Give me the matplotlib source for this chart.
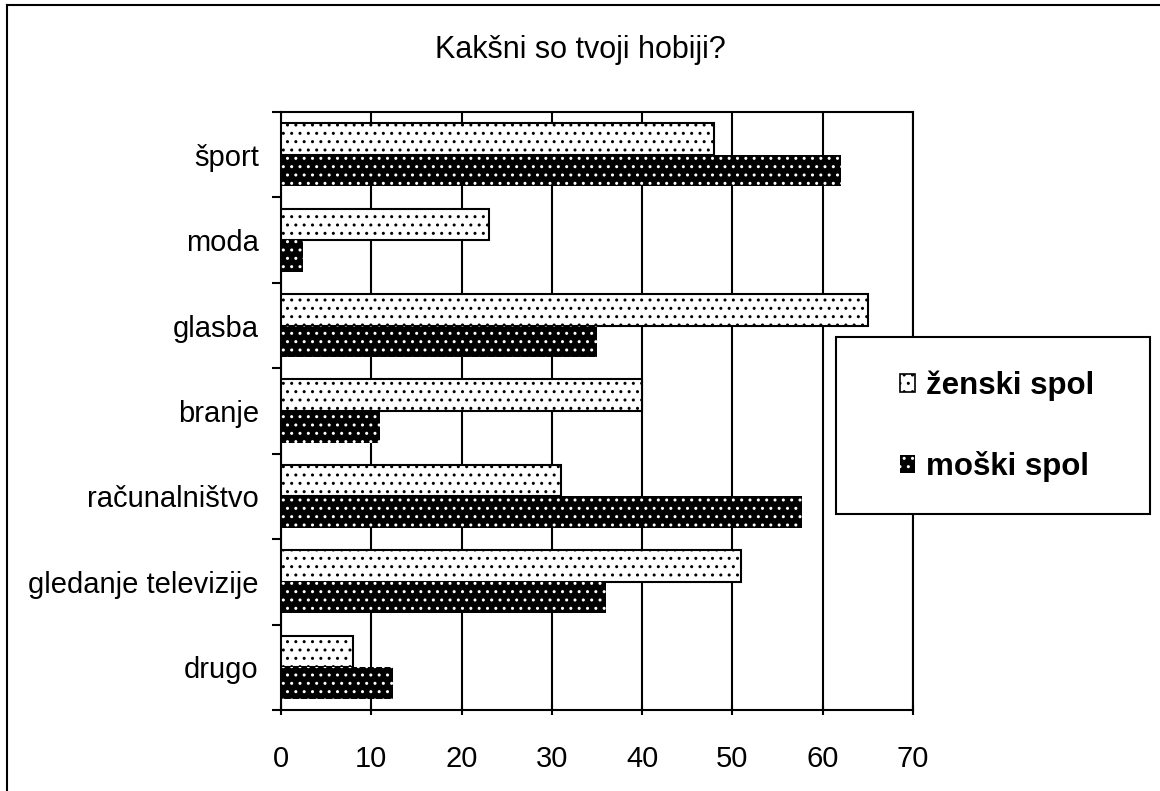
import numpy as np
import matplotlib
matplotlib.use("Agg")
import matplotlib.pyplot as plt
from matplotlib.patches import Rectangle, Patch
from matplotlib.lines import Line2D

plt.rcParams['font.family'] = ['Liberation Sans', 'DejaVu Sans']
plt.rcParams['hatch.linewidth'] = 1.0

# podatki odčitani s slike
kategorije = ["šport", "moda", "glasba", "branje", "računalništvo",
              "gledanje televizije", "drugo"]
zenski = [48, 23, 65, 40, 31, 51, 8]
moski = [62, 2.4, 35, 11, 57.7, 36, 12.4]
oznake_x = [0, 10, 20, 30, 40, 50, 60, 70]

W, H = 1160, 791
fig = plt.figure(figsize=(W / 100, H / 100), dpi=100)
ax = fig.add_axes([281 / W, 1 - 710 / H, (913 - 281) / W, (710 - 112) / H])

y = np.arange(len(kategorije))
h = 0.37

# ženski spol: bela podlaga s črnimi pikami
ax.barh(y - h / 2, zenski, height=h, facecolor='white', edgecolor='black',
        hatch='..', linewidth=1.5, zorder=3)
# moški spol: črna podlaga z belimi pikami
ax.barh(y + h / 2, moski, height=h, facecolor='black', edgecolor='white',
        hatch='..', linewidth=0, zorder=3)

ax.set_xlim(0, 70)
ax.set_ylim(len(kategorije) - 0.5, -0.5)
ax.set_xticks(oznake_x)
ax.set_xticklabels([str(v) for v in oznake_x], fontsize=21)
ax.tick_params(axis='x', direction='inout', length=7, width=1.5, pad=22)

ax.set_yticks(y)
ax.set_yticklabels(kategorije, fontsize=21)
ax.set_yticks(np.arange(-0.5, len(kategorije)), minor=True)
ax.tick_params(axis='y', which='major', length=0, pad=16)
ax.tick_params(axis='y', which='minor', direction='out', length=6.5, width=1.5)

ax.grid(axis='x', color='black', linewidth=1.5, zorder=1)
ax.set_axisbelow(True)
for s in ax.spines.values():
    s.set_linewidth(1.5)

fig.text(0.5, 1 - 58 / H, "Kakšni so tvoji hobiji?", ha='center',
         va='baseline', fontsize=22)

# okvir legende
fig.add_artist(Rectangle((836 / W, 1 - 514 / H), 314 / W, 177 / H,
                         transform=fig.transFigure, facecolor='white',
                         edgecolor='black', linewidth=1.5, zorder=4))
rocaji = [Patch(facecolor='white', edgecolor='black', hatch='..', linewidth=1.2),
          Patch(facecolor='black', edgecolor='white', hatch='..', linewidth=0)]
fig.legend(rocaji, ["ženski spol", "moški spol"], loc='center',
           bbox_to_anchor=(997 / W, 1 - 426 / H), frameon=False,
           prop={'weight': 'bold', 'size': 22.5}, handlelength=0.5,
           handleheight=0.5, handletextpad=0.35, labelspacing=1.6)

# zunanji okvir
fig.add_artist(Line2D([7 / W, 1], [1 - 5 / H, 1 - 5 / H], transform=fig.transFigure,
                      color='black', linewidth=1.5))
fig.add_artist(Line2D([7 / W, 7 / W], [0, 1 - 5 / H], transform=fig.transFigure,
                      color='black', linewidth=1.5))

fig.savefig("out.png", dpi=100)
